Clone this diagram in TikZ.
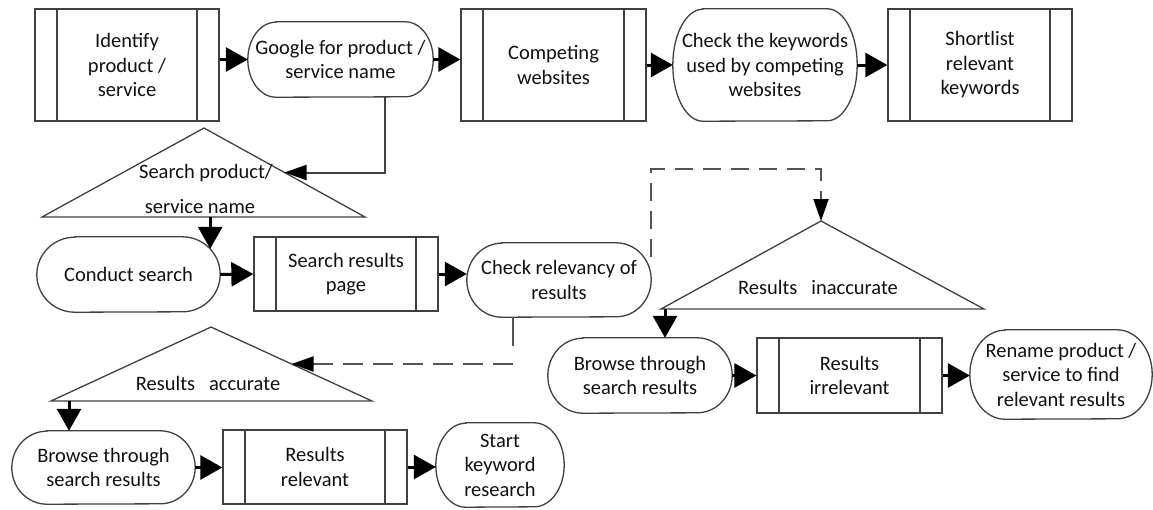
\documentclass[tikz,border=0pt]{standalone}
\usepackage{fontspec}
\setmainfont{Carlito}
\usetikzlibrary{arrows.meta,calc}
\definecolor{linec}{HTML}{404040}
\definecolor{txtc}{HTML}{111111}
\definecolor{dashc}{HTML}{555555}
\tikzset{
  every node/.style={font=\fontsize{20.5}{24.5}\selectfont, text=txtc, inner sep=0pt, align=center},
  outline/.style={draw=linec, line width=1.3pt},
  proc/.style={outline, minimum width=184pt,
    path picture={\draw[linec, line width=1.3pt]
      ([xshift=22pt]path picture bounding box.north west) -- ([xshift=22pt]path picture bounding box.south west)
      ([xshift=-22pt]path picture bounding box.north east) -- ([xshift=-22pt]path picture bounding box.south east);}},
  stad/.style={minimum width=184pt},
  arr/.style={-{Triangle[length=22pt,width=24pt]}, line width=3pt, black},
  arrthin/.style={-{Triangle[length=22pt,width=15pt,color=black]}, line width=2pt},
  dashln/.style={dashc, line width=2pt, dash pattern=on 18pt off 10pt},
}
\newcommand\stadshape[3]{%
  \draw[outline] ([xshift=#2]#1.north west) -- ([xshift=-#2]#1.north east)
    arc[start angle=90, end angle=-90, x radius=#2, y radius=#3]
    -- ([xshift=#2]#1.south west)
    arc[start angle=270, end angle=90, x radius=#2, y radius=#3] -- cycle;}
\begin{document}
\begin{tikzpicture}[x=1pt,y=-1pt]
\useasboundingbox (0,0) rectangle (1153,509);

% top row
\node[proc, minimum height=112pt] (n1) at (127,65) {Identify\\product /\\service};
\node[stad, minimum width=185pt, minimum height=75pt] (n2) at (340.5,59.5) {Google for product /\\service name};
\stadshape{n2}{28pt}{37.5pt}
\node[proc, minimum width=185pt, minimum height=112pt] (n3) at (553.5,65) {Competing\\websites};
\node[stad, minimum height=112pt] (n4) at (765,65) {Check the keywords\\used by competing\\websites};
\stadshape{n4}{30pt}{56pt}
\node[proc, minimum height=112pt] (n5) at (980,65) {Shortlist\\relevant\\keywords};

% triangle 1
\coordinate (t1a) at (204,128);
\coordinate (t1l) at (42,217);
\coordinate (t1r) at (365,217);
\draw[outline] (t1a) -- (t1l) -- (t1r) -- cycle;
\node (t1x) at (206,173) {Search product/};
\node (t1y) at (200,207) {service name};
\coordinate (t1m) at ($(t1a)!0.5!(t1r)$);

% second row
\node[stad, minimum width=183pt, minimum height=75pt] (n6) at (128.5,274.5) {Conduct search};
\stadshape{n6}{38pt}{37.5pt}
\node[proc, minimum height=74pt] (n7) at (346,274) {Search results\\page};
\node[stad, minimum height=74pt] (n8) at (559,280) {Check relevancy of\\results};
\stadshape{n8}{35pt}{37pt}

% triangle 3 (inaccurate)
\coordinate (t3a) at (821,221);
\coordinate (t3l) at (661,309);
\coordinate (t3r) at (984,309);
\draw[outline] (t3a) -- (t3l) -- (t3r) -- cycle;
\node (t3x) at (818,287) {Results~~~inaccurate};

\node[stad, minimum height=75pt] (n9) at (640,375.5) {Browse through\\search results};
\stadshape{n9}{35pt}{37.5pt}
\node[proc, minimum width=185pt, minimum height=75pt] (n10) at (849.5,375.5) {Results\\irrelevant};
\node[stad, minimum width=182pt, minimum height=89pt] (n11) at (1061,374.5) {Rename product /\\service to find\\relevant results};
\stadshape{n11}{35pt}{44.5pt}

% triangle 2 (accurate)
\coordinate (t2a) at (211,327);
\coordinate (t2l) at (51,401);
\coordinate (t2r) at (372,401);
\draw[outline] (t2a) -- (t2l) -- (t2r) -- cycle;
\node (t2x) at (208,383) {Results~~~accurate};
\coordinate (t2m) at ($(t2a)!0.5!(t2r)$);

% bottom row
\node[stad, minimum width=183pt, minimum height=73pt] (n12) at (103.5,467.5) {Browse through\\search results};
\stadshape{n12}{35pt}{36.5pt}
\node[proc, minimum height=74pt] (n13) at (315,467) {Results\\relevant};
\node[stad, minimum width=128pt, minimum height=84pt] (n14) at (500,465) {Start\\keyword\\research};
\stadshape{n14}{30pt}{42pt}

% connectors
\draw[arr] (n1.east |- n2.west) -- (n2.west);
\draw[arr] (n2.east) -- (n2.east -| n3.west);
\draw[arr] (n3.east) -- (n4.west);
\draw[arr] (n4.east) -- (n5.west);

\coordinate (g1) at ($(n2.south)+(44.5,0)$);
\draw[arrthin, linec] (g1) |- (t1m);

\coordinate (c6) at ($(n6.north east)+(-10,12)$);
\draw[arr] (t1l -| c6) -- (c6);

\draw[arr] (n6.east) -- (n7.west);
\draw[arr] (n7.east) -- (n7.east -| n8.west);

\coordinate (c8t) at ($(n8.north east)+(0,14)$);
\coordinate (c8top) at ($(n8.north east)+(0,-74)$);
\draw[dashln, arrthin] (c8t) -- (c8top) -| (t3a);

\coordinate (c8) at ($(n8.south)+(-46,0)$);
\draw[arrthin, dashc, dash pattern=on 29pt off 18pt on 20pt off 10pt on 20pt off 10pt on 20pt off 10pt on 20pt off 10pt on 20pt off 10pt on 20pt off 10pt on 20pt off 10pt on 20pt off 10pt] (c8) |- (t2m);

\coordinate (c9) at ($(n9.north)+(25,0)$);
\draw[arr] (c9 |- t3l) -- (c9);
\draw[arr] (n9.east) -- (n10.west);
\draw[arr] (n10.east) -- (n10.east -| n11.west);

\coordinate (c12) at ($(n12.north)+(-34.5,0)$);
\draw[arr] (c12 |- t2l) -- (c12);
\draw[arr] (n12.east) -- (n12.east -| n13.west);
\draw[arr] (n13.east) -- (n13.east -| n14.west);
\end{tikzpicture}
\end{document}
